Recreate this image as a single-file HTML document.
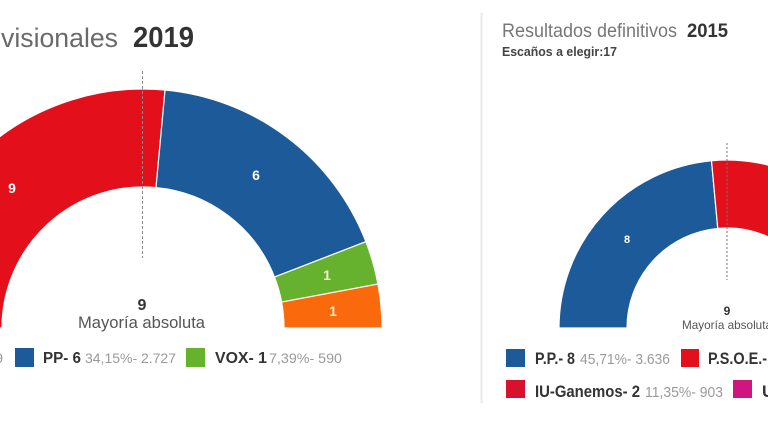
<!DOCTYPE html>
<html><head><meta charset="utf-8"><style>
html,body{margin:0;padding:0;background:#fff;}
svg{display:block;}
text{font-family:"Liberation Sans",sans-serif;}
</style></head><body>
<svg width="768" height="432" viewBox="0 0 768 432" xmlns="http://www.w3.org/2000/svg">
<rect width="768" height="432" fill="#fff"/>

<!-- LEFT CHART -->
<text x="-4" y="47" font-size="27" fill="#6a6a6a" text-anchor="end">Resultados pro</text>
<text x="1" y="47" font-size="27" fill="#6a6a6a" textLength="117" lengthAdjust="spacingAndGlyphs">visionales</text>
<text x="133" y="47" font-size="29" font-weight="bold" fill="#333" textLength="61" lengthAdjust="spacingAndGlyphs">2019</text>

<g stroke="#fff" stroke-width="1.2">
<path d="M -96 328 A 239 239 0 0 1 165.05 90.02 L 156.01 187.60 A 141 141 0 0 0 2 328 Z" fill="#e3101b"/>
<path d="M 165.05 90.02 A 239 239 0 0 1 365.86 241.66 L 274.48 277.07 A 141 141 0 0 0 156.01 187.60 Z" fill="#1d5a9a"/>
<path d="M 365.86 241.66 A 239 239 0 0 1 377.93 284.08 L 281.60 302.09 A 141 141 0 0 0 274.48 277.07 Z" fill="#66b22e"/>
<path d="M 377.93 284.08 A 239 239 0 0 1 382 328 L 284 328 A 141 141 0 0 0 281.60 302.09 Z" fill="#fa6a0c"/>
</g>
<line x1="142.5" y1="71" x2="142.5" y2="258" stroke="#8a8a8a" stroke-width="1" stroke-dasharray="3 2"/>

<g font-size="14" font-weight="bold" text-anchor="middle">
<text x="12" y="193" fill="#fff">9</text>
<text x="256" y="180" fill="#fff">6</text>
<text x="327" y="280" fill="#f3f0c8">1</text>
<text x="333" y="316" fill="#f3f0c8">1</text>
</g>

<text x="142" y="310" font-size="16" font-weight="bold" fill="#333" text-anchor="middle">9</text>
<text x="78" y="328" font-size="17" fill="#555" textLength="127" lengthAdjust="spacingAndGlyphs">Mayoría absoluta</text>

<!-- left legend -->
<text x="3" y="363" font-size="14" fill="#9a9a9a" text-anchor="end">9</text>
<rect x="15" y="348" width="19" height="19" fill="#1d5a9a"/>
<text x="43" y="363" font-size="16" font-weight="bold" fill="#333" textLength="38" lengthAdjust="spacingAndGlyphs">PP- 6</text>
<text x="85" y="363" font-size="14" fill="#9a9a9a" textLength="91" lengthAdjust="spacingAndGlyphs">34,15%- 2.727</text>
<rect x="186" y="348" width="19" height="19" fill="#66b22e"/>
<text x="215" y="363" font-size="16" font-weight="bold" fill="#333" textLength="52" lengthAdjust="spacingAndGlyphs">VOX- 1</text>
<text x="269" y="363" font-size="14" fill="#9a9a9a" textLength="73" lengthAdjust="spacingAndGlyphs">7,39%- 590</text>

<!-- RIGHT PANEL -->
<line x1="481.5" y1="13" x2="481.5" y2="403" stroke="#e8e8e8" stroke-width="2"/>
<text x="502" y="37" font-size="19" fill="#777" textLength="175" lengthAdjust="spacingAndGlyphs">Resultados definitivos</text>
<text x="687" y="37" font-size="19" font-weight="bold" fill="#333" textLength="41" lengthAdjust="spacingAndGlyphs">2015</text>
<text x="502" y="56" font-size="13" font-weight="bold" fill="#444" textLength="115" lengthAdjust="spacingAndGlyphs">Escaños a elegir:17</text>

<g stroke="#fff" stroke-width="1.2">
<path d="M 559 328 A 168 168 0 0 1 711.50 160.72 L 717.77 228.43 A 100 100 0 0 0 627 328 Z" fill="#1d5a9a"/>
<path d="M 711.50 160.72 A 168 168 0 0 1 872.5 244 L 813.6 278 A 100 100 0 0 0 717.77 228.43 Z" fill="#e3101b"/>
</g>
<line x1="727" y1="143" x2="727" y2="280" stroke="#777" stroke-width="1" stroke-dasharray="2 2"/>
<text x="627" y="243" font-size="11" font-weight="bold" fill="#fff" text-anchor="middle">8</text>

<text x="727" y="315" font-size="12" font-weight="bold" fill="#333" text-anchor="middle">9</text>
<text x="727" y="329" font-size="12" fill="#555" text-anchor="middle" textLength="90" lengthAdjust="spacingAndGlyphs">Mayoría absoluta</text>

<!-- right legend -->
<rect x="506" y="349" width="19" height="18" fill="#1d5a9a"/>
<text x="535" y="364" font-size="17" font-weight="bold" fill="#333" textLength="40" lengthAdjust="spacingAndGlyphs">P.P.- 8</text>
<text x="580" y="364" font-size="15" fill="#9a9a9a" textLength="90" lengthAdjust="spacingAndGlyphs">45,71%- 3.636</text>
<rect x="681" y="349" width="18" height="18" fill="#e3101b"/>
<text x="708" y="364" font-size="17" font-weight="bold" fill="#333" textLength="59" lengthAdjust="spacingAndGlyphs">P.S.O.E.-</text>

<rect x="506" y="380" width="19" height="18" fill="#d8112c"/>
<text x="535" y="397" font-size="17" font-weight="bold" fill="#333" textLength="105" lengthAdjust="spacingAndGlyphs">IU-Ganemos- 2</text>
<text x="645" y="397" font-size="15" fill="#9a9a9a" textLength="78" lengthAdjust="spacingAndGlyphs">11,35%- 903</text>
<rect x="733" y="380" width="19" height="18" fill="#d0157f"/>
<text x="762" y="397" font-size="17" font-weight="bold" fill="#333">U</text>
</svg>
</body></html>
